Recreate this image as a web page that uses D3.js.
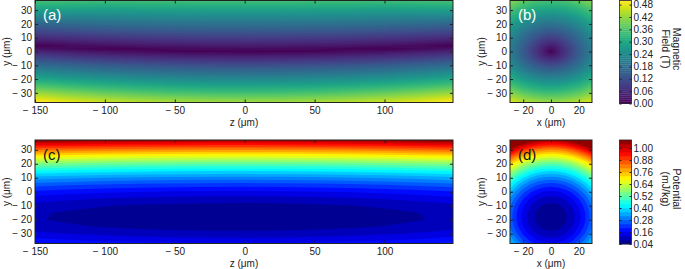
<!DOCTYPE html>
<html>
<head>
<meta charset="utf-8">
<script src="https://cdn.jsdelivr.net/npm/d3@7"></script>
<style>
  body { margin: 0; background: #fff; }
  svg { display: block; font-family: "Liberation Sans", Arial, sans-serif; }
</style>
</head>
<body>
<svg id="chart" width="685" height="269"></svg>
<script>
// grid nodes (µm)
const zNodes = [-150, -125, -100, -75, -50, -25, 0, 25, 50, 75, 100, 125, 150]
const yNodesField = [40, 30, 20, 12, 7, 4, 2, 0, -3, -7, -12, -20, -30, -40]
const xNodesField = [-30, -20, -12, -6, -3, 0, 3, 6, 12, 20, 30]
const yNodesFieldX = [40, 30, 20, 12, 6, 3, 0, -3, -6, -12, -20, -30, -40]
const xNodesPot = [-30, -25, -20, -15, -10, -5, 0, 5, 10, 15, 20, 25, 30]
const yNodesPot = [40, 35, 30, 25, 20, 15, 10, 5, 0, -5, -10, -15, -20, -25, -30, -35, -40]

// |B| (T) in the y-z plane, rows = yNodesField, cols = zNodes
const fieldYZ = [
  [0.385, 0.380, 0.374, 0.375, 0.377, 0.377, 0.377, 0.377, 0.377, 0.375, 0.374, 0.380, 0.385],
  [0.282, 0.278, 0.276, 0.279, 0.281, 0.282, 0.282, 0.282, 0.281, 0.279, 0.276, 0.278, 0.282],
  [0.163, 0.171, 0.177, 0.182, 0.185, 0.186, 0.187, 0.186, 0.185, 0.182, 0.177, 0.171, 0.163],
  [0.081, 0.091, 0.099, 0.104, 0.108, 0.110, 0.111, 0.110, 0.108, 0.104, 0.099, 0.091, 0.081],
  [0.030, 0.041, 0.049, 0.056, 0.060, 0.063, 0.064, 0.063, 0.060, 0.056, 0.049, 0.041, 0.030],
  [0.001, 0.011, 0.020, 0.027, 0.031, 0.034, 0.035, 0.034, 0.031, 0.027, 0.020, 0.011, 0.001],
  [0.026, 0.011, 0.000, 0.007, 0.012, 0.015, 0.016, 0.015, 0.012, 0.007, 0.000, 0.011, 0.026],
  [0.051, 0.036, 0.024, 0.015, 0.008, 0.005, 0.003, 0.005, 0.008, 0.015, 0.024, 0.036, 0.051],
  [0.088, 0.072, 0.059, 0.050, 0.043, 0.039, 0.038, 0.039, 0.043, 0.050, 0.059, 0.072, 0.088],
  [0.138, 0.121, 0.107, 0.097, 0.090, 0.085, 0.084, 0.085, 0.090, 0.097, 0.107, 0.121, 0.138],
  [0.200, 0.181, 0.167, 0.155, 0.148, 0.143, 0.141, 0.143, 0.148, 0.155, 0.167, 0.181, 0.200],
  [0.299, 0.279, 0.262, 0.249, 0.240, 0.235, 0.233, 0.235, 0.240, 0.249, 0.262, 0.279, 0.299],
  [0.424, 0.400, 0.381, 0.367, 0.356, 0.350, 0.348, 0.350, 0.356, 0.367, 0.381, 0.400, 0.424],
  [0.548, 0.521, 0.500, 0.484, 0.473, 0.466, 0.463, 0.466, 0.473, 0.484, 0.500, 0.521, 0.548]
]

// |B| (T) in the x-y plane, rows = yNodesFieldX, cols = xNodesField
const fieldYX = [
  [0.437, 0.406, 0.390, 0.382, 0.381, 0.380, 0.381, 0.382, 0.390, 0.406, 0.437],
  [0.358, 0.319, 0.298, 0.288, 0.286, 0.285, 0.286, 0.288, 0.298, 0.319, 0.358],
  [0.288, 0.238, 0.209, 0.195, 0.191, 0.190, 0.191, 0.195, 0.209, 0.238, 0.288],
  [0.244, 0.184, 0.143, 0.122, 0.116, 0.114, 0.116, 0.122, 0.143, 0.184, 0.244],
  [0.223, 0.155, 0.104, 0.072, 0.061, 0.057, 0.061, 0.072, 0.104, 0.155, 0.223],
  [0.218, 0.147, 0.091, 0.052, 0.036, 0.029, 0.036, 0.052, 0.091, 0.147, 0.218],
  [0.216, 0.144, 0.086, 0.043, 0.022, 0.000, 0.022, 0.043, 0.086, 0.144, 0.216],
  [0.219, 0.148, 0.093, 0.055, 0.041, 0.035, 0.041, 0.055, 0.093, 0.148, 0.219],
  [0.227, 0.160, 0.111, 0.081, 0.072, 0.069, 0.072, 0.081, 0.111, 0.160, 0.227],
  [0.256, 0.199, 0.163, 0.145, 0.140, 0.138, 0.140, 0.145, 0.163, 0.199, 0.256],
  [0.316, 0.271, 0.246, 0.234, 0.231, 0.230, 0.231, 0.234, 0.246, 0.271, 0.316],
  [0.407, 0.374, 0.356, 0.348, 0.346, 0.345, 0.346, 0.348, 0.356, 0.374, 0.407],
  [0.508, 0.482, 0.468, 0.462, 0.461, 0.460, 0.461, 0.462, 0.468, 0.482, 0.508]
]

// potential (mJ/kg) in the y-z plane, rows = yNodesPot, cols = zNodes
const potentialYZ = [
  [1.193, 1.181, 1.171, 1.164, 1.159, 1.156, 1.155, 1.157, 1.161, 1.167, 1.176, 1.187, 1.200],
  [1.010, 0.998, 0.988, 0.981, 0.976, 0.973, 0.972, 0.974, 0.978, 0.984, 0.993, 1.004, 1.017],
  [0.843, 0.831, 0.821, 0.814, 0.809, 0.806, 0.805, 0.807, 0.811, 0.817, 0.826, 0.837, 0.850],
  [0.693, 0.681, 0.671, 0.664, 0.659, 0.656, 0.655, 0.657, 0.661, 0.667, 0.676, 0.687, 0.700],
  [0.560, 0.548, 0.538, 0.531, 0.526, 0.523, 0.522, 0.524, 0.528, 0.534, 0.543, 0.554, 0.567],
  [0.442, 0.430, 0.420, 0.413, 0.408, 0.405, 0.404, 0.406, 0.410, 0.416, 0.425, 0.436, 0.449],
  [0.342, 0.330, 0.320, 0.313, 0.308, 0.305, 0.304, 0.306, 0.310, 0.316, 0.325, 0.336, 0.349],
  [0.258, 0.246, 0.236, 0.229, 0.224, 0.221, 0.220, 0.222, 0.226, 0.232, 0.241, 0.252, 0.265],
  [0.190, 0.178, 0.168, 0.161, 0.156, 0.153, 0.152, 0.154, 0.158, 0.164, 0.173, 0.184, 0.197],
  [0.139, 0.127, 0.117, 0.110, 0.105, 0.102, 0.101, 0.103, 0.107, 0.113, 0.122, 0.133, 0.146],
  [0.104, 0.092, 0.082, 0.075, 0.070, 0.067, 0.066, 0.068, 0.072, 0.078, 0.087, 0.098, 0.111],
  [0.086, 0.074, 0.064, 0.057, 0.052, 0.049, 0.048, 0.050, 0.054, 0.060, 0.069, 0.080, 0.093],
  [0.084, 0.072, 0.062, 0.055, 0.050, 0.047, 0.046, 0.048, 0.052, 0.058, 0.067, 0.078, 0.091],
  [0.099, 0.087, 0.077, 0.070, 0.065, 0.062, 0.061, 0.063, 0.067, 0.073, 0.082, 0.093, 0.106],
  [0.131, 0.119, 0.109, 0.102, 0.097, 0.094, 0.093, 0.095, 0.099, 0.105, 0.114, 0.125, 0.138],
  [0.178, 0.166, 0.156, 0.149, 0.144, 0.141, 0.140, 0.142, 0.146, 0.152, 0.161, 0.172, 0.185],
  [0.243, 0.231, 0.221, 0.214, 0.209, 0.206, 0.205, 0.207, 0.211, 0.217, 0.226, 0.237, 0.250]
]

// potential (mJ/kg) in the x-y plane, rows = yNodesPot, cols = xNodesPot
const potentialYX = [
  [1.380, 1.311, 1.255, 1.211, 1.180, 1.161, 1.155, 1.161, 1.180, 1.211, 1.255, 1.311, 1.380],
  [1.197, 1.128, 1.072, 1.028, 0.997, 0.978, 0.972, 0.978, 0.997, 1.028, 1.072, 1.128, 1.197],
  [1.030, 0.961, 0.905, 0.861, 0.830, 0.811, 0.805, 0.811, 0.830, 0.861, 0.905, 0.961, 1.030],
  [0.880, 0.811, 0.755, 0.711, 0.680, 0.661, 0.655, 0.661, 0.680, 0.711, 0.755, 0.811, 0.880],
  [0.747, 0.678, 0.622, 0.578, 0.547, 0.528, 0.522, 0.528, 0.547, 0.578, 0.622, 0.678, 0.747],
  [0.629, 0.560, 0.504, 0.460, 0.429, 0.410, 0.404, 0.410, 0.429, 0.460, 0.504, 0.560, 0.629],
  [0.529, 0.460, 0.404, 0.360, 0.329, 0.310, 0.304, 0.310, 0.329, 0.360, 0.404, 0.460, 0.529],
  [0.445, 0.376, 0.320, 0.276, 0.245, 0.226, 0.220, 0.226, 0.245, 0.276, 0.320, 0.376, 0.445],
  [0.377, 0.308, 0.252, 0.208, 0.177, 0.158, 0.152, 0.158, 0.177, 0.208, 0.252, 0.308, 0.377],
  [0.326, 0.257, 0.201, 0.157, 0.126, 0.107, 0.101, 0.107, 0.126, 0.157, 0.201, 0.257, 0.326],
  [0.291, 0.222, 0.166, 0.122, 0.091, 0.072, 0.066, 0.072, 0.091, 0.122, 0.166, 0.222, 0.291],
  [0.273, 0.204, 0.148, 0.104, 0.073, 0.054, 0.048, 0.054, 0.073, 0.104, 0.148, 0.204, 0.273],
  [0.271, 0.202, 0.146, 0.102, 0.071, 0.052, 0.046, 0.052, 0.071, 0.102, 0.146, 0.202, 0.271],
  [0.286, 0.217, 0.161, 0.117, 0.086, 0.067, 0.061, 0.067, 0.086, 0.117, 0.161, 0.217, 0.286],
  [0.318, 0.249, 0.193, 0.149, 0.118, 0.099, 0.093, 0.099, 0.118, 0.149, 0.193, 0.249, 0.318],
  [0.365, 0.296, 0.240, 0.196, 0.165, 0.146, 0.140, 0.146, 0.165, 0.196, 0.240, 0.296, 0.365],
  [0.430, 0.361, 0.305, 0.261, 0.230, 0.211, 0.205, 0.211, 0.230, 0.261, 0.305, 0.361, 0.430]
]

// ticks
const zTicks = [-150, -100, -50, 0, 50, 100]
const xTicks = [-20, 0, 20]
const yTicks = [-30, -20, -10, 0, 10, 20, 30]
const fieldTicks = [0, 0.06, 0.12, 0.18, 0.24, 0.30, 0.36, 0.42, 0.48]
const potentialTicks = [0.04, 0.16, 0.28, 0.40, 0.52, 0.64, 0.76, 0.88, 1.00]

// colour levels
const fieldMax = 0.5
const fieldStep = 0.01
const fieldLevels = d3.range(0, fieldMax, fieldStep)
const potStep = 0.04
const potLevels = d3.range(26).map(i => 0.04 + potStep * i)

const fieldColor = lv => d3.interpolateViridis(Math.min(1, (lv + fieldStep / 2) / fieldMax))
function jet (t) {
  const c = v => Math.round(255 * Math.max(0, Math.min(1, v)))
  return `rgb(${c(1.5 - Math.abs(4 * t - 3))},${c(1.5 - Math.abs(4 * t - 2))},${c(1.5 - Math.abs(4 * t - 1))})`
}
const potColor = lv => jet((Math.round((lv - 0.04) / potStep) + 0.5) / potLevels.length)

const svg = d3.select('#chart')
const fmtAxis = d => d < 0 ? '\u2212 ' + Math.abs(d) : String(d)
const FONT = '"Liberation Sans", Arial, sans-serif'

function styleAxis (sel) {
  sel.select('.domain').remove()
  sel.attr('font-family', FONT).attr('font-size', 10).attr('color', '#222')
}

function panel (opt) {
  const g = svg.append('g')
  const xScale = d3.scaleLinear().domain(opt.xDomain).range([opt.left, opt.right])
  const yScale = d3.scaleLinear().domain(opt.yDomain).range([opt.bottom, opt.top])
  // grid index -> data coordinate (value i sits at i + 0.5)
  const ix = d3.scaleLinear().domain(opt.xNodes.map((d, i) => i + 0.5)).range(opt.xNodes)
  const iy = d3.scaleLinear().domain(opt.yNodes.map((d, i) => i + 0.5)).range(opt.yNodes)
  const contours = d3.contours()
    .size([opt.xNodes.length, opt.yNodes.length])
    .thresholds(opt.levels)(opt.values.flat())
  const path = d3.geoPath(d3.geoTransform({
    point (x, y) { this.stream.point(xScale(ix(x)), yScale(iy(y))) }
  }))

  svg.append('clipPath').attr('id', opt.id).append('rect')
    .attr('x', opt.left).attr('y', opt.top)
    .attr('width', opt.right - opt.left).attr('height', opt.bottom - opt.top)

  const body = g.append('g').attr('clip-path', `url(#${opt.id})`)
  body.append('rect')
    .attr('x', opt.left).attr('y', opt.top)
    .attr('width', opt.right - opt.left).attr('height', opt.bottom - opt.top)
    .attr('fill', opt.fill(opt.levels[0]))
  body.selectAll('path')
    .data(contours)
    .join('path')
    .attr('d', path)
    .attr('fill', d => opt.fill(d.value))

  // axes, ticks pointing inward on all sides
  g.append('g').attr('transform', `translate(0,${opt.bottom})`)
    .call(d3.axisBottom(xScale).tickValues(opt.xTicks).tickSizeInner(-3).tickSizeOuter(0).tickPadding(4.5).tickFormat(fmtAxis))
    .call(styleAxis)
  g.append('g').attr('transform', `translate(0,${opt.top})`)
    .call(d3.axisTop(xScale).tickValues(opt.xTicks).tickSizeInner(-3).tickSizeOuter(0).tickFormat(''))
    .call(styleAxis)
  g.append('g').attr('transform', `translate(${opt.left},0)`)
    .call(d3.axisLeft(yScale).tickValues(yTicks).tickSizeInner(-3).tickSizeOuter(0).tickPadding(3).tickFormat(fmtAxis))
    .call(styleAxis)
  g.append('g').attr('transform', `translate(${opt.right},0)`)
    .call(d3.axisRight(yScale).tickValues(yTicks).tickSizeInner(-3).tickSizeOuter(0).tickFormat(''))
    .call(styleAxis)

  g.append('rect')
    .attr('x', opt.left).attr('y', opt.top)
    .attr('width', opt.right - opt.left).attr('height', opt.bottom - opt.top)
    .attr('fill', 'none').attr('stroke', '#222').attr('stroke-width', 1)

  // axis titles
  g.append('text')
    .attr('x', (opt.left + opt.right) / 2).attr('y', opt.bottom + 23.5)
    .attr('text-anchor', 'middle').attr('font-size', 10).attr('fill', '#222')
    .text(opt.xTitle)
  g.append('text')
    .attr('transform', `translate(${opt.left - 25.5},${(opt.top + opt.bottom) / 2}) rotate(-90)`)
    .attr('text-anchor', 'middle').attr('font-size', 10).attr('fill', '#222')
    .text('y (\u03bcm)')

  // panel letter
  g.append('text')
    .attr('x', opt.left + 8).attr('y', opt.top + 19.5)
    .attr('font-size', 15).attr('fill', opt.letterColor)
    .text(opt.letter)
}

function colorbar (opt) {
  const g = svg.append('g')
  const scale = d3.scaleLinear().domain(opt.domain).range([opt.bottom, opt.top])
  g.selectAll('rect.band')
    .data(opt.levels)
    .join('rect')
    .attr('class', 'band')
    .attr('x', opt.left)
    .attr('width', opt.right - opt.left)
    .attr('y', d => scale(Math.min(opt.domain[1], d + opt.step)))
    .attr('height', d => scale(d) - scale(Math.min(opt.domain[1], d + opt.step)) + 0.3)
    .attr('fill', d => opt.fill(d))
  g.append('g').attr('transform', `translate(${opt.left},0)`)
    .call(d3.axisLeft(scale).tickValues(opt.ticks).tickSizeInner(-2).tickSizeOuter(0).tickFormat(''))
    .call(styleAxis)
  g.append('g').attr('transform', `translate(${opt.right},0)`)
    .call(d3.axisRight(scale).tickValues(opt.ticks).tickSizeInner(-2).tickSizeOuter(0).tickPadding(2).tickFormat(d3.format('.2f')))
    .call(styleAxis)
  g.append('rect')
    .attr('x', opt.left).attr('y', opt.top)
    .attr('width', opt.right - opt.left).attr('height', opt.bottom - opt.top)
    .attr('fill', 'none').attr('stroke', '#222').attr('stroke-width', 0.8)
  const t = g.append('text')
    .attr('transform', `translate(673,${opt.titleY}) rotate(90)`)
    .attr('text-anchor', 'middle').attr('font-size', 10.5).attr('fill', '#222')
  t.append('tspan').attr('x', 0).attr('dy', 0).text(opt.title[0])
  t.append('tspan').attr('x', 0).attr('dy', '1.05em').text(opt.title[1])
}

panel({
  id: 'clip-a', left: 35, right: 453, top: 0.5, bottom: 102.5,
  xDomain: [-150, 149], yDomain: [-37, 37],
  xNodes: zNodes, yNodes: yNodesField, values: fieldYZ,
  levels: fieldLevels, fill: fieldColor,
  xTicks: zTicks, xTitle: 'z (\u03bcm)', letter: '(a)', letterColor: '#fff'
})
panel({
  id: 'clip-b', left: 510, right: 592, top: 0.5, bottom: 102.5,
  xDomain: [-29.5, 29.5], yDomain: [-37, 37],
  xNodes: xNodesField, yNodes: yNodesFieldX, values: fieldYX,
  levels: fieldLevels, fill: fieldColor,
  xTicks: xTicks, xTitle: 'x (\u03bcm)', letter: '(b)', letterColor: '#fff'
})
panel({
  id: 'clip-c', left: 35, right: 453, top: 140, bottom: 243.5,
  xDomain: [-150, 149], yDomain: [-37, 37],
  xNodes: zNodes, yNodes: yNodesPot, values: potentialYZ,
  levels: potLevels, fill: potColor,
  xTicks: zTicks, xTitle: 'z (\u03bcm)', letter: '(c)', letterColor: '#111'
})
panel({
  id: 'clip-d', left: 510, right: 592, top: 140, bottom: 243.5,
  xDomain: [-29.5, 29.5], yDomain: [-37, 37],
  xNodes: xNodesPot, yNodes: yNodesPot, values: potentialYX,
  levels: potLevels, fill: potColor,
  xTicks: xTicks, xTitle: 'x (\u03bcm)', letter: '(d)', letterColor: '#111'
})

colorbar({
  left: 619.5, right: 631.5, top: 0.5, bottom: 103.5,
  domain: [0, fieldMax], levels: fieldLevels, step: fieldStep, fill: fieldColor,
  ticks: fieldTicks, title: ['Magnetic', 'Field (T)'], titleY: 49
})
colorbar({
  left: 619.5, right: 631.5, top: 140, bottom: 244,
  domain: [0.04, 1.08], levels: potLevels, step: potStep, fill: potColor,
  ticks: potentialTicks, title: ['Potential', '(mJ/kg)'], titleY: 189
})
</script>
</body>
</html>
